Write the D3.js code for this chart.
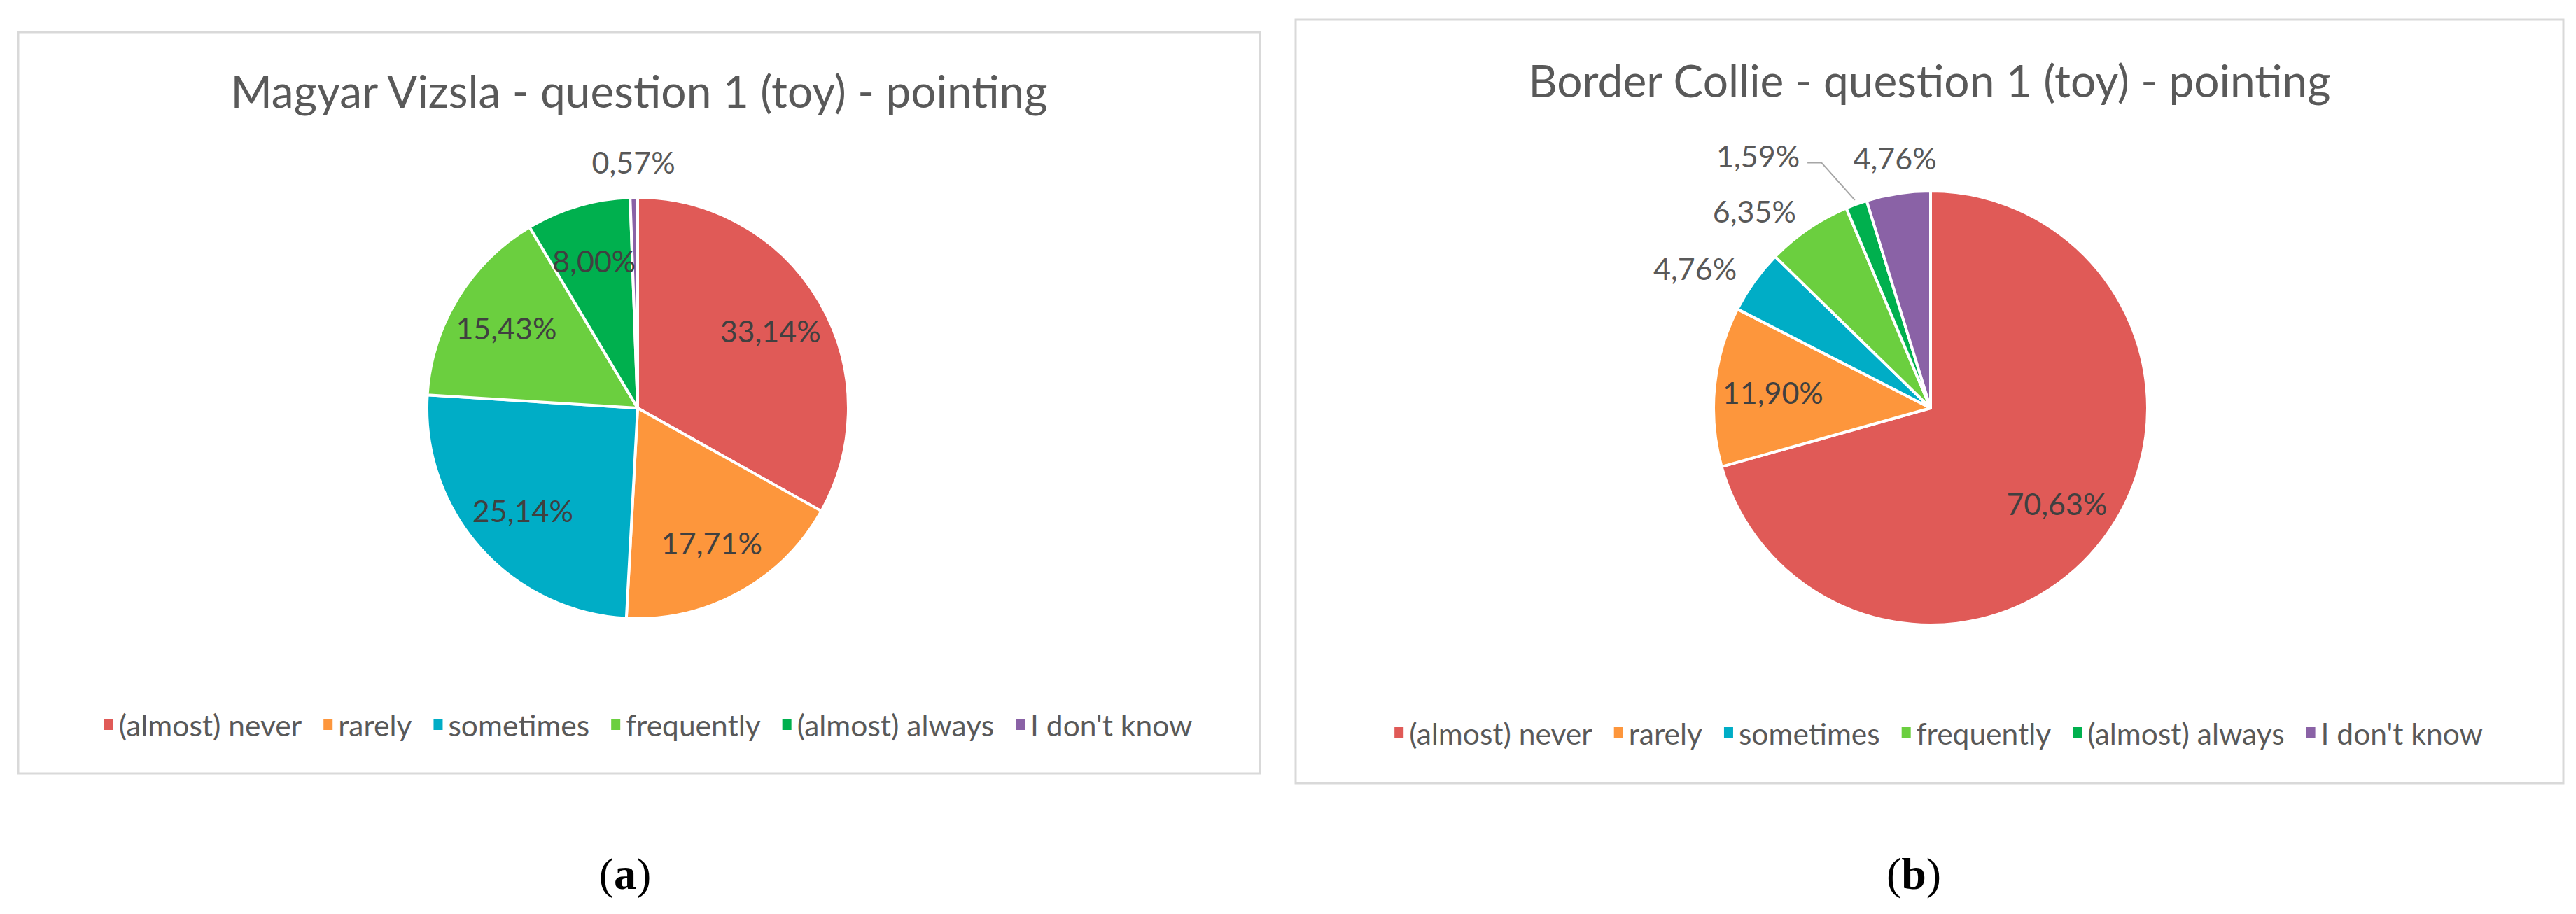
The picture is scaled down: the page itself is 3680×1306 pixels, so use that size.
<!DOCTYPE html>
<html>
<head>
<meta charset="utf-8">
<script src="https://cdn.jsdelivr.net/npm/d3@7"></script>
<style>
  body { margin: 0; background: #fff; }
  svg { display: block; }
</style>
</head>
<body>
<script>
// answer categories, shared by both pies
const categories = [
  "(almost) never",
  "rarely",
  "sometimes",
  "frequently",
  "(almost) always",
  "I don't know"
];
// percentages
const vizslaValues = [33.14, 17.71, 25.14, 15.43, 8.0, 0.57];
const collieValues = [70.63, 11.9, 4.76, 6.35, 1.59, 4.76];
const chartTitles = [
  "Magyar Vizsla - question 1 (toy) - pointing",
  "Border Collie - question 1 (toy) - pointing"
];
const captionLetters = ["a", "b"];

const colors = ["#E05A57", "#FD963C", "#00ADC6", "#6BCF3F", "#00B04E", "#8A62A6"];

const width = 3680,
  height = 1306;

// panel layout (box, pie centre, radius etc.)
const panels = [
  {
    values: vizslaValues,
    box: [26, 46, 1800, 1105],
    cx: 911, cy: 583, r: 301,
    titleY: 129, legendY: 1035, captionX: 893,
    nudge: {}
  },
  {
    values: collieValues,
    box: [1851, 28, 3662, 1119],
    cx: 2758, cy: 583, r: 310,
    titleY: 114, legendY: 1047, captionX: 2734,
    // the 1,59% label is pushed aside by Excel, with a leader line
    nudge: { 4: { angle: -7.4, radius: 1.31, leader: true } }
  }
];

const fmt = v => v.toFixed(2).replace(".", ",") + "%";
const font = "Lato, 'Open Sans', sans-serif";

const svg = d3
  .select("body")
  .append("svg")
  .attr("width", width)
  .attr("height", height)
  .attr("viewBox", `0 0 ${width} ${height}`);

svg.append("rect").attr("width", width).attr("height", height).attr("fill", "#fff");

const color = d3.scaleOrdinal().domain(categories).range(colors);

const pie = d3
  .pie()
  .sort(null)
  .value(d => d.value);

panels.forEach((p, pi) => {
  const g = svg.append("g").attr("class", "panel");
  const [x0, y0, x1, y1] = p.box;
  const boxCx = (x0 + x1) / 2;

  g.append("rect")
    .attr("x", x0)
    .attr("y", y0)
    .attr("width", x1 - x0)
    .attr("height", y1 - y0)
    .attr("fill", "#fff")
    .attr("stroke", "#D9D9D9")
    .attr("stroke-width", 3);

  g.append("text")
    .attr("x", boxCx)
    .attr("y", p.titleY)
    .attr("text-anchor", "middle")
    .attr("dominant-baseline", "central")
    .attr("font-family", font)
    .attr("font-size", 64)
    .attr("fill", "#595959")
    .text(chartTitles[pi]);

  const data = categories.map((c, i) => ({ cat: c, value: p.values[i], i }));
  const arcs = pie(data);

  const arc = d3.arc().innerRadius(0).outerRadius(p.r);
  const pg = g.append("g").attr("transform", `translate(${p.cx},${p.cy})`);

  pg.selectAll("path.slice")
    .data(arcs)
    .enter()
    .append("path")
    .attr("class", "slice")
    .attr("d", arc)
    .attr("fill", d => color(d.data.cat))
    .attr("stroke", "#fff")
    .attr("stroke-width", 4)
    .attr("stroke-linejoin", "round");

  // labels: big slices inside, small ones outside
  const inner = d3.arc().innerRadius(p.r * 0.73).outerRadius(p.r * 0.73);
  arcs.forEach(a => {
    const v = a.data.value;
    const mid = (a.startAngle + a.endAngle) / 2;
    const label = pg
      .append("text")
      .attr("font-family", font)
      .attr("font-size", 43)
      .attr("dominant-baseline", "central")
      .text(fmt(v));

    if (v >= 7) {
      const [lx, ly] = inner.centroid(a);
      label
        .attr("x", lx)
        .attr("y", ly)
        .attr("text-anchor", "middle")
        .attr("fill", "#404040");
      return;
    }

    label.attr("fill", "#595959");
    const nudge = p.nudge[a.data.i];
    if (nudge) {
      const ang = mid + (nudge.angle * Math.PI) / 180;
      const R = p.r * nudge.radius;
      const lx = R * Math.sin(ang),
        ly = -R * Math.cos(ang);
      label.attr("x", lx).attr("y", ly).attr("text-anchor", "end");
      if (nudge.leader) {
        const ex = p.r * 1.02 * Math.sin(mid),
          ey = -p.r * 1.02 * Math.cos(mid);
        pg.append("path")
          .attr("d", d3.line()([[ex, ey], [lx + 31, ly + 10], [lx + 11, ly + 10]]))
          .attr("fill", "none")
          .attr("stroke", "#A6A6A6")
          .attr("stroke-width", 2);
      }
      return;
    }

    const R = p.r * 1.1;
    const sx = Math.sin(mid),
      cy = Math.cos(mid);
    const lx = R * sx,
      ly = -R * cy;
    if (Math.abs(sx) < 0.35) {
      label
        .attr("x", lx)
        .attr("y", ly - 20)
        .attr("text-anchor", "middle");
    } else {
      label
        .attr("x", lx)
        .attr("y", ly)
        .attr("text-anchor", sx < 0 ? "end" : "start");
    }
  });

  // legend, centred under the pie
  const lg = g.append("g").attr("class", "legend");
  const items = lg
    .selectAll("g.item")
    .data(categories)
    .enter()
    .append("g")
    .attr("class", "item");
  items
    .append("rect")
    .attr("width", 13)
    .attr("height", 16)
    .attr("y", -8)
    .attr("fill", d => color(d));
  items
    .append("text")
    .attr("x", 21)
    .attr("dominant-baseline", "central")
    .attr("font-family", font)
    .attr("font-size", 42.5)
    .attr("fill", "#595959")
    .text(d => d);

  let xpos = 0;
  items.each(function () {
    const w = d3.select(this).select("text").node().getComputedTextLength();
    d3.select(this).attr("transform", `translate(${xpos},0)`);
    xpos += 21 + w + 31;
  });
  const total = xpos - 31;
  lg.attr("transform", `translate(${boxCx - total / 2 + 13},${p.legendY})`);

  // sub-figure caption
  const cap = svg
    .append("text")
    .attr("x", p.captionX)
    .attr("y", 1248)
    .attr("text-anchor", "middle")
    .attr("dominant-baseline", "central")
    .attr("font-family", "'Liberation Serif', 'DejaVu Serif', serif")
    .attr("font-size", 64)
    .attr("fill", "#000");
  cap.append("tspan").text("(");
  cap.append("tspan").attr("font-weight", "bold").text(captionLetters[pi]);
  cap.append("tspan").text(")");
});
</script>
</body>
</html>
